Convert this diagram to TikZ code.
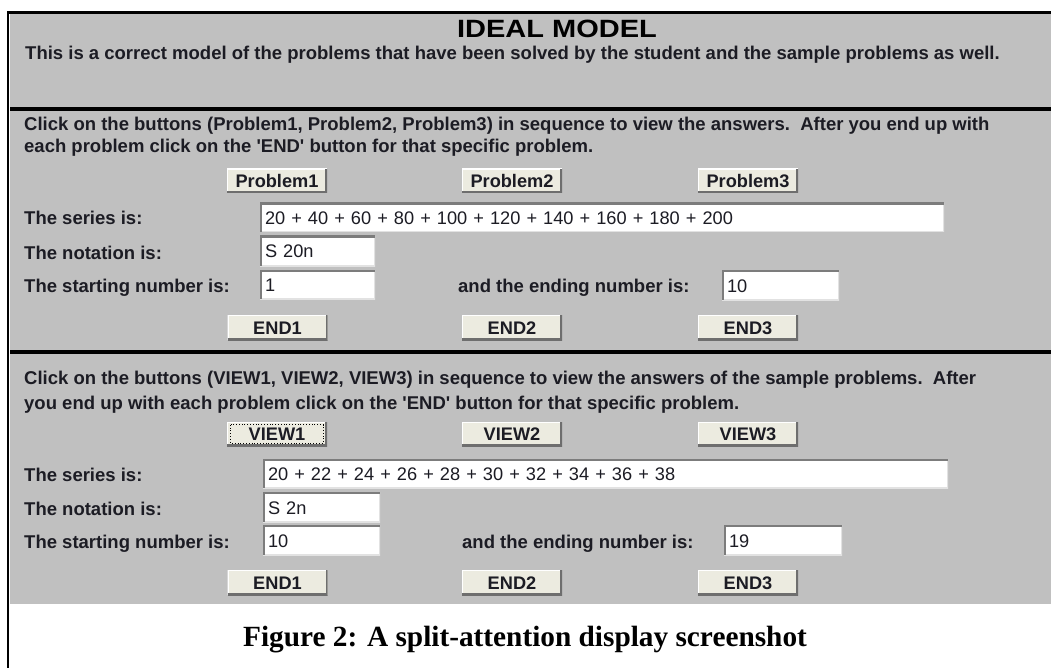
\documentclass[tikz,border=0pt]{standalone}
\usepackage{fontspec}
\newfontfamily\uifont{Liberation Sans}
\newfontfamily\capfont{Liberation Serif}
\usepackage{graphicx}

\definecolor{panel}{HTML}{C0C0C0}
\definecolor{ink}{HTML}{1C1C24}
\definecolor{btnface}{HTML}{ECEBE0}
\definecolor{btnshade}{HTML}{6E6E6E}
\definecolor{fielddark}{HTML}{7C7C7C}
\definecolor{fieldlight}{HTML}{E2E2E2}

\tikzset{
  lbl/.style={anchor=base west, inner sep=0pt, text=ink,
    font=\uifont\bfseries\fontsize{18.5}{20}\selectfont},
  btn/.style={fill=btnface, minimum width=100pt, minimum height=#1,
    inner sep=0pt, text height=13pt, text depth=0pt, text=ink,
    font=\uifont\bfseries\fontsize{18.2}{20}\selectfont,
    path picture={
      \draw[white, line width=2pt]
        (path picture bounding box.south west) -- (path picture bounding box.north west)
        -- (path picture bounding box.north east);
      \draw[btnshade, line width=4pt]
        (path picture bounding box.south west) -- (path picture bounding box.south east)
        -- (path picture bounding box.north east);
    }},
  btn/.default=24pt,
  field/.style={fill=white, minimum height=#1, inner xsep=5pt, inner ysep=0pt,
    align=left, text height=14pt, text depth=0pt, text=ink,
    font=\uifont\fontsize{18.2}{20}\selectfont,
    path picture={
      \draw[fieldlight, line width=2pt]
        (path picture bounding box.south west) -- (path picture bounding box.south east)
        -- (path picture bounding box.north east);
      \draw[fielddark, line width=4pt]
        (path picture bounding box.south west) -- (path picture bounding box.north west)
        -- (path picture bounding box.north east);
    }},
  field/.default=29pt,
  rule/.style={line width=4pt, black},
  focusring/.style={dotted, line width=0.8pt, black}
}

\begin{document}
\begin{tikzpicture}[x=1pt, y=-1pt]
\useasboundingbox (0,0) rectangle (1051,668);

% window background and frame
\fill[white] (0,0) rectangle (1051,668);
\fill[panel] (10,14) rectangle (1051,604);
\draw[line width=2.5pt] (8.2,12) -- (8.2,668);
\draw[line width=3pt] (7,12.5) -- (1051,12.5);

% heading
\node[anchor=base, inner sep=0pt, text=black,
  font=\uifont\bfseries\fontsize{25}{28}\selectfont] (title) at (557,38)
  {\scalebox{1.16}[1]{IDEAL MODEL}};
\node[lbl] (intro) at (25,60) {This is a correct model of the problems that have been solved by the student and the sample problems as well.};

% section separators
\coordinate (s1a) at (10,109);  \coordinate (s1b) at (1051,109);
\coordinate (s2a) at (10,352);  \coordinate (s2b) at (1051,352);
\draw[rule] (s1a) -- (s1b);
\draw[rule] (s2a) -- (s2b);

% ---- solved problems ----
\node[lbl] (help1a) at (24,131) {Click on the buttons (Problem1, Problem2, Problem3) in sequence to view the answers.\ \ After you end up with};
\node[lbl] (help1b) at (24,153) {each problem click on the 'END' button for that specific problem.};

\node[btn] (p1) at (277,181) {Problem1};
\node[btn] (p2) at (512,181) {Problem2};
\node[btn] (p3) at (748,181) {Problem3};

\node[lbl] (ser1l) at (24,225) {The series is:};
\node[field, text width=674pt] (ser1) at (602,217.5) {20 + 40 + 60 + 80 + 100 + 120 + 140 + 160 + 180 + 200};
\node[lbl] (not1l) at (24,259) {The notation is:};
\node[field=30pt, text width=105pt] (not1) at (317.5,251) {S 20n};
\node[lbl] (sta1l) at (24,292) {The starting number is:};
\node[field, text width=105pt] (sta1) at (317.5,284.5) {1};
\node[lbl] (end1l) at (458,292) {and the ending number is:};
\node[field=30pt, text width=107pt] (end1) at (780.5,285) {10};

\node[btn=25pt] (e11) at (277.5,327.5) {END1};
\node[btn=25pt] (e12) at (512,327.5) {END2};
\node[btn=25pt] (e13) at (748,327.5) {END3};

% ---- sample problems ----
\node[lbl] (help2a) at (24,384) {Click on the buttons (VIEW1, VIEW2, VIEW3) in sequence to view the answers of the sample problems.\ \ After};
\node[lbl] (help2b) at (24,409) {you end up with each problem click on the 'END' button for that specific problem.};

\node[btn] (v1) at (277,434) {VIEW1};
\node[btn] (v2) at (512,434) {VIEW2};
\node[btn] (v3) at (748,434) {VIEW3};
\draw[focusring] ([shift={(4,3)}]v1.north west) rectangle ([shift={(-4,-3)}]v1.south east);

\node[lbl] (ser2l) at (24,481) {The series is:};
\node[field, text width=675pt] (ser2) at (605.5,473.5) {20 + 22 + 24 + 26 + 28 + 30 + 32 + 34 + 36 + 38};
\node[lbl] (not2l) at (24,515) {The notation is:};
\node[field=30pt, text width=107pt] (not2) at (321.5,507) {S 2n};
\node[lbl] (sta2l) at (24,548) {The starting number is:};
\node[field=30pt, text width=107pt] (sta2) at (321.5,540) {10};
\node[lbl] (end2l) at (462,548) {and the ending number is:};
\node[field=30pt, text width=108pt] (end2) at (783,540) {19};

\node[btn=25pt] (e21) at (277.5,582.5) {END1};
\node[btn=25pt] (e22) at (512,582.5) {END2};
\node[btn=25pt] (e23) at (748,582.5) {END3};

% caption
\node[anchor=base, inner sep=0pt, text=black,
  font=\capfont\bfseries\fontsize{29.3}{32}\selectfont] (caption) at (525,646)
  {Figure 2: A split-attention display screenshot};
\end{tikzpicture}
\end{document}
